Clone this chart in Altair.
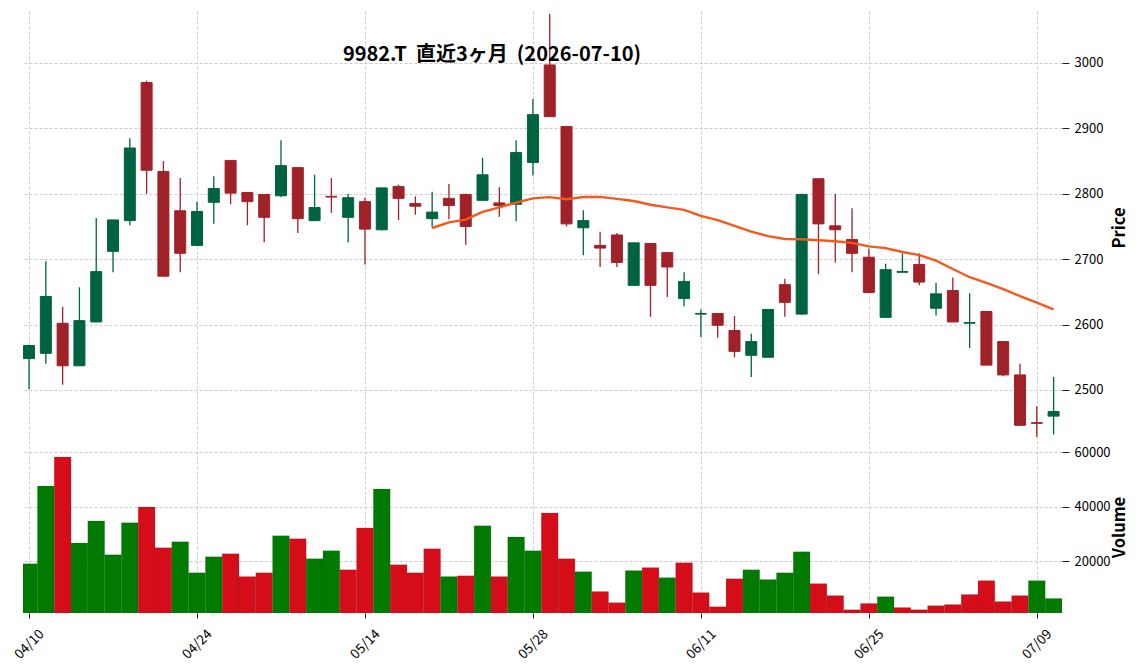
import altair as alt
import pandas as pd
import numpy as np

dates = ["04/10", "04/13", "04/14", "04/15", "04/16", "04/17", "04/20", "04/21", "04/22", "04/23",
         "04/24", "04/27", "04/28", "04/30", "05/01", "05/07", "05/08", "05/11", "05/12", "05/13",
         "05/14", "05/15", "05/18", "05/19", "05/20", "05/21", "05/22", "05/25", "05/26", "05/27",
         "05/28", "05/29", "06/01", "06/02", "06/03", "06/04", "06/05", "06/08", "06/09", "06/10",
         "06/11", "06/12", "06/15", "06/16", "06/17", "06/18", "06/19", "06/22", "06/23", "06/24",
         "06/25", "06/26", "06/29", "06/30", "07/01", "07/02", "07/03", "07/06", "07/07", "07/08",
         "07/09", "07/10"]

opens = [2548, 2556, 2602, 2537, 2604, 2712, 2759, 2970, 2834, 2774,
         2721, 2787, 2851, 2802, 2799, 2797, 2840, 2759, 2796, 2764,
         2788, 2745, 2811, 2785, 2762, 2793, 2799, 2790, 2786, 2784,
         2848, 2997, 2903, 2748, 2721, 2737, 2660, 2724, 2710, 2640,
         2616, 2617, 2591, 2553, 2550, 2661, 2616, 2823, 2751, 2730,
         2703, 2611, 2680, 2692, 2625, 2652, 2602, 2620, 2574, 2523,
         2450, 2460]
highs = [2569, 2697, 2627, 2657, 2763, 2760, 2885, 2973, 2850, 2824,
         2788, 2827, 2851, 2802, 2799, 2882, 2840, 2829, 2824, 2800,
         2794, 2809, 2814, 2796, 2803, 2815, 2800, 2855, 2810, 2882,
         2945, 3075, 2903, 2775, 2742, 2740, 2725, 2724, 2710, 2680,
         2623, 2617, 2613, 2586, 2623, 2670, 2800, 2823, 2800, 2778,
         2716, 2693, 2709, 2709, 2664, 2672, 2648, 2620, 2574, 2540,
         2475, 2520]
lows = [2501, 2540, 2508, 2537, 2604, 2680, 2752, 2800, 2674, 2680,
        2721, 2754, 2784, 2752, 2726, 2795, 2740, 2758, 2771, 2726,
        2692, 2744, 2760, 2768, 2749, 2761, 2722, 2790, 2765, 2758,
        2828, 2918, 2750, 2706, 2688, 2688, 2660, 2612, 2642, 2628,
        2581, 2580, 2550, 2520, 2550, 2612, 2615, 2677, 2695, 2680,
        2649, 2611, 2680, 2660, 2614, 2604, 2564, 2538, 2521, 2446,
        2428, 2432]
closes = [2568, 2643, 2537, 2606, 2681, 2760, 2870, 2836, 2674, 2709,
          2773, 2808, 2801, 2788, 2764, 2843, 2762, 2779, 2795, 2794,
          2746, 2809, 2793, 2781, 2772, 2782, 2750, 2829, 2782, 2863,
          2921, 2918, 2754, 2759, 2717, 2695, 2725, 2660, 2688, 2666,
          2617, 2599, 2559, 2574, 2623, 2634, 2799, 2754, 2745, 2709,
          2649, 2684, 2681, 2665, 2647, 2604, 2603, 2538, 2523, 2446,
          2449, 2467]
volumes = [19000, 47600, 58300, 26700, 34800, 22300, 34100, 39900, 24900, 27100,
           15700, 21600, 22700, 14300, 15700, 29300, 28200, 20900, 23800, 16800,
           32200, 46500, 18700, 15700, 24500, 14300, 14600, 33000, 14300, 28900,
           23800, 37700, 20900, 16100, 8800, 4700, 16500, 17600, 13900, 19400,
           8400, 3200, 13500, 16800, 13200, 15700, 23400, 11700, 7300, 2100,
           4400, 6900, 2900, 2100, 3600, 4000, 7700, 12800, 5100, 7300,
           12800, 6200]

title_text = "9982.T\u00a0\u00a0直近3ヶ月\u00a0\u00a0(2026-07-10)"
price_ticks = [2500, 2600, 2700, 2800, 2900, 3000]
volume_ticks = [20000, 40000, 60000]
date_tick_idx = [0, 10, 20, 30, 40, 50, 60]
ma_window = 25

df = pd.DataFrame({"i": list(range(len(dates))), "date": dates, "open": opens,
                   "high": highs, "low": lows, "close": closes, "volume": volumes})
df["dir"] = np.where(df["close"] >= df["open"], "up", "down")
prev = df["close"].shift(1)
df["vdir"] = np.where(prev.isna() | (df["close"] >= prev), "up", "down")

FONT = "Noto Sans CJK JP"
W = 1039
HP = 429
HV = 172
GRID = dict(grid=True, gridColor="#c0c0c0", gridDash=[3, 2], gridWidth=0.8)

xscale = alt.Scale(domain=[-0.36, 61.5], nice=False, zero=False, padding=0)
candle_scale = alt.Scale(domain=["up", "down"], range=["#006340", "#A02128"])
vol_scale = alt.Scale(domain=["up", "down"], range=["#007a00", "#d50d18"])

label_expr = "[" + ",".join("'%s'" % d for d in dates) + "][datum.value]"

x_price = alt.X("i:Q", scale=xscale,
                axis=alt.Axis(values=date_tick_idx, labels=False, ticks=False, domain=False,
                              title=None, **GRID))
yscale = alt.Scale(domain=[2423.5, 3079.5], nice=False, zero=False)
price_axis = alt.Axis(orient="right", values=price_ticks, format="d", domain=False, tickSize=7,
                      tickColor="#222", labelFont=FONT, labelFontSize=13, labelColor="#000",
                      labelPadding=5, title="Price", titleFont=FONT, titleFontSize=16.5,
                      titleFontWeight="bold", titleColor="#000", titleAngle=270, titleX=57,
                      titleY=HP / 2 + 2, titleAlign="center", titleBaseline="middle", **GRID)

base = alt.Chart(df)
wicks = base.mark_rule(strokeWidth=1.3, clip=True).encode(
    x=x_price,
    y=alt.Y("low:Q", scale=yscale, axis=price_axis),
    y2="high:Q",
    color=alt.Color("dir:N", scale=candle_scale, legend=None),
)
bodies = base.mark_bar(size=11, strokeWidth=1, clip=True).encode(
    x="i:Q",
    y="open:Q",
    y2="close:Q",
    color=alt.Color("dir:N", scale=candle_scale, legend=None),
    stroke=alt.Stroke("dir:N", scale=candle_scale, legend=None),
)
ma = base.transform_window(
    ma="mean(close)", n="count()", frame=[-(ma_window - 1), 0], sort=[alt.SortField("i")]
).transform_filter(
    "datum.n == %d" % ma_window
).mark_line(color="#F4581D", strokeWidth=2.4, clip=True).encode(x="i:Q", y="ma:Q")

title_layer = alt.Chart(pd.DataFrame({"t": [title_text]})).mark_text(
    font=FONT, fontSize=20, fontWeight="bold", align="center", baseline="middle", color="#000"
).encode(x=alt.value(469), y=alt.value(44), text="t:N")

price = alt.layer(wicks, bodies, ma, title_layer).properties(width=W, height=HP)

vol_axis = alt.Axis(orient="right", values=volume_ticks, format="d", domain=False, tickSize=7,
                    tickColor="#222", labelFont=FONT, labelFontSize=13, labelColor="#000",
                    labelPadding=5, title="Volume", titleFont=FONT, titleFontSize=16.5,
                    titleFontWeight="bold", titleColor="#000", titleAngle=270, titleX=57,
                    titleY=HV / 2, titleAlign="center", titleBaseline="middle", **GRID)

volume = alt.Chart(df).mark_bar(size=16.8, clip=True, strokeWidth=0.4, strokeOpacity=0.35,
                                stroke="#333").encode(
    x=alt.X("i:Q", scale=xscale,
            axis=alt.Axis(values=date_tick_idx, labelExpr=label_expr, labelAngle=315,
                          labelAlign="center", labelBaseline="middle", labelPadding=26,
                          tickSize=5, tickColor="#222", domain=False, title=None,
                          labelFont=FONT, labelFontSize=13.5, labelColor="#000",
                          labelOverlap=False, labelFlush=False, **GRID)),
    y=alt.Y("volume:Q", scale=alt.Scale(domain=[900, 64200], nice=False, zero=False),
            axis=vol_axis),
    y2=alt.value(HV),
    color=alt.Color("vdir:N", scale=vol_scale, legend=None),
).properties(width=W, height=HV)

chart = alt.vconcat(price, volume, spacing=1).resolve_scale(
    color="independent", stroke="independent"
).properties(
    padding={"left": 11, "top": 11, "right": 5, "bottom": 5},
    background="white",
).configure_view(stroke=None)

chart.save("out.html", embed_options={"renderer": "svg", "actions": False})
